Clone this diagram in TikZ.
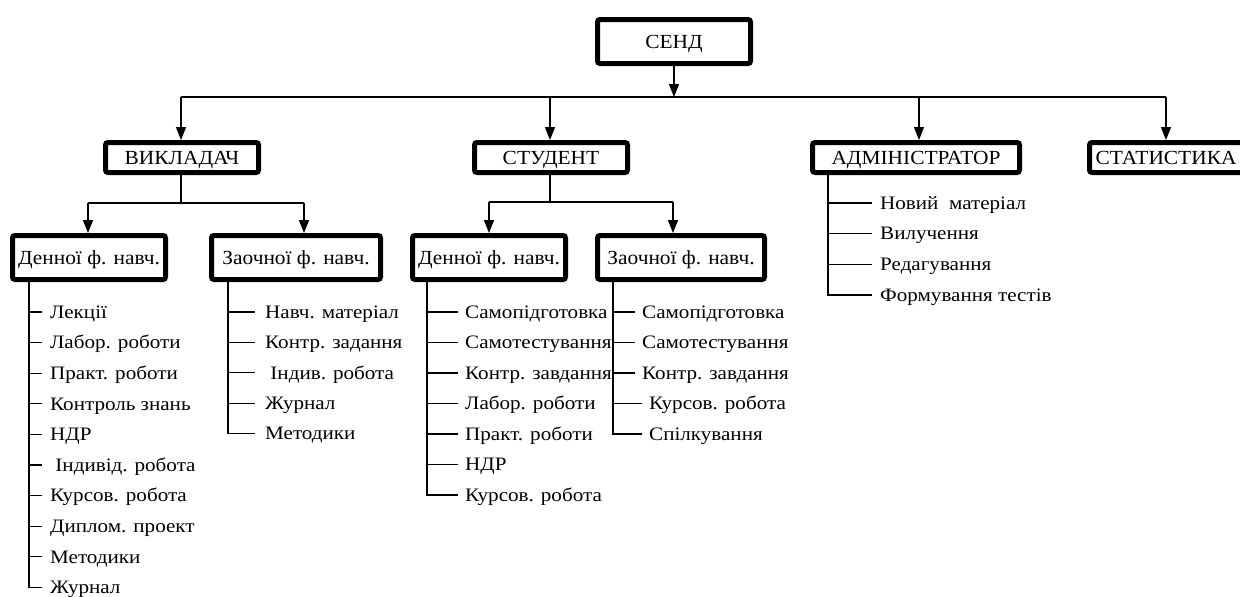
\documentclass[tikz,border=0pt]{standalone}
\usepackage{fontspec}
\setmainfont{Liberation Serif}
\newfontfamily\tnr{Liberation Serif}
\usetikzlibrary{arrows.meta}
\newcommand{\wbox}[1]{\scalebox{1.07}[1]{#1}}
\newcommand{\witem}[1]{\scalebox{1.11}[1]{#1}}
\begin{document}
\begin{tikzpicture}[x=1pt,y=-1pt,
  box/.style={draw, line width=5pt, rounded corners=2.5pt, fill=white, inner sep=0pt,
    text height=13pt, text depth=0pt, font=\tnr\fontsize{20}{24}\selectfont},
  lowbox/.style={box, minimum height=44pt},
  conn/.style={line width=1.3pt},
  arr/.style={conn, -{Triangle[length=13pt,width=10pt]}},
  item/.style={anchor=west, inner sep=0pt, text height=12.5pt, text depth=0pt,
    font=\tnr\fontsize{19}{22}\selectfont}]
\useasboundingbox (0,0) rectangle (1240,597);

% top level
\node[box, minimum width=153pt, minimum height=44pt] (send) at (674,41.5) {\wbox{СЕНД}};
\node[box, minimum width=153pt, minimum height=30pt] (teacher) at (182,157.5) {\wbox{ВИКЛАДАЧ}};
\node[box, minimum width=153pt, minimum height=30pt] (student) at (551,157.5) {\wbox{СТУДЕНТ}};
\node[box, minimum width=207pt, minimum height=30pt] (admin) at (916,157.5) {\wbox{АДМІНІСТРАТОР}};
\node[box, minimum width=153pt, minimum height=30pt] (stat) at (1166,157.5) {\wbox{СТАТИСТИКА}};

\coordinate (busY) at (0,97);
\draw[arr] (send.south) -- (send.south |- busY);
\draw[conn] ([xshift=-1pt]teacher.north |- busY) -- (stat.north |- busY);
\draw[arr] ([xshift=-1pt]teacher.north |- busY) -- ([xshift=-1pt]teacher.north);
\draw[arr] ([xshift=-1pt]student.north |- busY) -- ([xshift=-1pt]student.north);
\draw[arr] ([xshift=3pt]admin.north |- busY) -- ([xshift=3pt]admin.north);
\draw[arr] (stat.north |- busY) -- (stat.north);

% second level
\node[lowbox, minimum width=153pt] (tday) at (89,257.5) {\wbox{Денної ф. навч.}};
\node[lowbox, minimum width=169pt] (tzao) at (296,257.5) {\wbox{Заочної ф. навч.}};
\node[lowbox, minimum width=153pt] (sday) at (489,257.5) {\wbox{Денної ф. навч.}};
\node[lowbox, minimum width=167pt] (szao) at (681,257.5) {\wbox{Заочної ф. навч.}};

\coordinate (tbus) at (0,203);
\draw[conn] ([xshift=-1pt]teacher.south) -- ([xshift=-1pt]teacher.south |- tbus);
\draw[conn] ([xshift=-1pt]tday.north |- tbus) -- ([xshift=8pt]tzao.north |- tbus);
\draw[arr] ([xshift=-1pt]tday.north |- tbus) -- ([xshift=-1pt]tday.north);
\draw[arr] ([xshift=8pt]tzao.north |- tbus) -- ([xshift=8pt]tzao.north);

\coordinate (sbus) at (0,202);
\draw[conn] ([xshift=-1pt]student.south) -- ([xshift=-1pt]student.south |- sbus);
\draw[conn] (sday.north |- sbus) -- ([xshift=-8pt]szao.north |- sbus);
\draw[arr] (sday.north |- sbus) -- (sday.north);
\draw[arr] ([xshift=-8pt]szao.north |- sbus) -- ([xshift=-8pt]szao.north);

% teacher, day form
\coordinate (tdL) at (29,0);
\foreach \t [count=\i] in {Лекції, Лабор. роботи, Практ. роботи, Контроль знань, НДР,
  {\ Індивід. робота}, Курсов. робота, Диплом. проект, Методики, Журнал}
  \node[item] (td\i) at (50,{312+30.6*(\i-1)}) {\witem{\t}};
\foreach \i in {1,...,9}
  \draw[conn] (td\i.west -| tdL) -- ([xshift=-8pt]td\i.west);
\draw[conn] (tday.south -| tdL) |- ([xshift=-8pt]td10.west);

% teacher, extramural form
\coordinate (tzL) at (228,0);
\foreach \t [count=\i] in {Навч. матеріал, Контр. задання, {\ Індив. робота}, Журнал, Методики}
  \node[item] (tz\i) at (265,{312+30.4*(\i-1)}) {\witem{\t}};
\foreach \i in {1,...,4}
  \draw[conn] (tz\i.west -| tzL) -- ([xshift=-10pt]tz\i.west);
\draw[conn] (tzao.south -| tzL) |- ([xshift=-10pt]tz5.west);

% student, day form
\coordinate (sdL) at (427,0);
\foreach \t [count=\i] in {Самопідготовка, Самотестування, Контр. завдання, Лабор. роботи,
  Практ. роботи, НДР, Курсов. робота}
  \node[item] (sd\i) at (465,{312+30.5*(\i-1)}) {\witem{\t}};
\foreach \i in {1,...,6}
  \draw[conn] (sd\i.west -| sdL) -- ([xshift=-7pt]sd\i.west);
\draw[conn] (sday.south -| sdL) |- ([xshift=-7pt]sd7.west);

% student, extramural form
\coordinate (szL) at (613,0);
\foreach \t/\x [count=\i] in {Самопідготовка/642, Самотестування/642, Контр. завдання/642,
  Курсов. робота/649, Спілкування/649}
  \node[item] (sz\i) at (\x,{312+30.5*(\i-1)}) {\witem{\t}};
\foreach \i in {1,...,4}
  \draw[conn] (sz\i.west -| szL) -- ([xshift=-7pt]sz\i.west);
\draw[conn] (szao.south -| szL) |- ([xshift=-7pt]sz5.west);

% administrator
\coordinate (aL) at (828,0);
\foreach \t [count=\i] in {Новий\ \ матеріал, Вилучення, Редагування, Формування тестів}
  \node[item] (ad\i) at (880,{203+30.7*(\i-1)}) {\witem{\t}};
\foreach \i in {1,...,3}
  \draw[conn] (ad\i.west -| aL) -- ([xshift=-8pt]ad\i.west);
\draw[conn] (admin.south -| aL) |- ([xshift=-8pt]ad4.west);
\end{tikzpicture}
\end{document}
